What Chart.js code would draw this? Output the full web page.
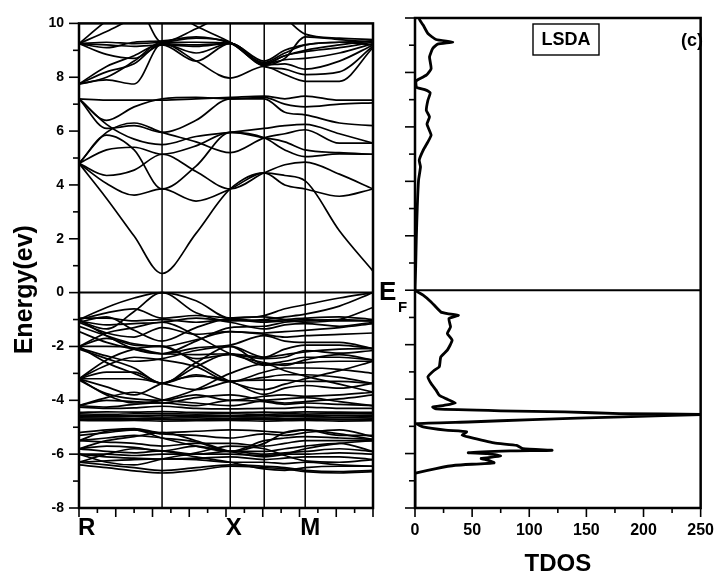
<!DOCTYPE html>
<html>
<head>
<meta charset="utf-8">
<script src="https://cdn.jsdelivr.net/npm/chart.js@4.4.1/dist/chart.umd.min.js"></script>
<style>
  html, body { margin: 0; padding: 0; background: #fff; }
  #wrap { position: relative; width: 727px; height: 580px; overflow: hidden; background: #fff; }
  #bands { position: absolute; left: 0; top: 0; }
  #dos { position: absolute; left: 370px; top: 0; }
</style>
</head>
<body>
<div id="wrap">
  <canvas id="bands" width="380" height="580"></canvas>
  <canvas id="dos" width="357" height="580"></canvas>
</div>
<script>
// ---- k-path (path-length units, 0 .. 16) ----
const kNodes = [0, 1.5, 3.0, 4.52, 6.37, 8.23, 10.08, 11.2, 12.31, 14.17, 16];
const symmetryK = [4.52, 8.23, 10.08, 12.31];
const kLabels = ['R', 'X', 'M'];
const kLabelK = [0, 8.42, 12.59];

// ---- band energies (eV) at each k node ----
const conductionBands = [
  [4.80, 3.50, 2.10, 0.71, 2.20, 3.85, 4.45, 4.35, 4.15, 2.30, 0.80],
  [4.80, 4.05, 3.62, 3.85, 3.40, 3.85, 4.45, 4.00, 3.85, 3.58, 3.85],
  [4.80, 4.35, 4.55, 5.14, 4.50, 3.85, 4.45, 4.75, 4.85, 4.40, 3.85],
  [4.80, 5.30, 5.40, 5.14, 5.45, 5.95, 5.75, 5.30, 5.05, 5.15, 5.14],
  [4.80, 5.85, 5.30, 3.85, 4.70, 5.95, 5.75, 5.60, 5.30, 5.20, 5.14],
  [4.80, 5.95, 6.30, 5.95, 5.60, 5.20, 5.75, 5.90, 6.05, 5.55, 5.55],
  [7.20, 6.25, 5.70, 5.50, 5.80, 5.95, 6.10, 6.20, 6.25, 5.90, 5.55],
  [7.20, 6.10, 6.20, 5.95, 6.40, 7.20, 7.20, 6.70, 6.60, 6.30, 6.20],
  [7.20, 6.40, 6.90, 7.20, 7.25, 7.20, 7.25, 7.00, 6.90, 7.00, 7.05],
  [7.20, 7.15, 7.15, 7.15, 7.20, 7.25, 7.30, 7.20, 7.30, 7.15, 7.15],
  [7.75, 7.90, 7.75, 9.25, 8.60, 7.97, 8.40, 8.10, 7.85, 7.85, 9.10],
  [7.75, 8.20, 8.50, 9.25, 8.90, 9.26, 8.40, 8.30, 8.10, 8.20, 9.15],
  [7.75, 8.40, 8.80, 9.25, 9.20, 9.26, 8.45, 8.50, 8.30, 8.60, 9.20],
  [7.75, 8.00, 8.60, 9.30, 9.30, 9.26, 8.50, 8.65, 8.70, 8.90, 9.25],
  [9.25, 8.85, 8.70, 9.20, 8.60, 9.26, 8.50, 8.80, 8.95, 9.10, 9.30],
  [9.25, 9.10, 9.30, 9.35, 9.50, 9.26, 8.55, 8.90, 9.20, 9.30, 9.35],
  [9.25, 9.70, 10.2, 10.6, 9.90, 9.30, 8.50, 8.80, 9.00, 9.20, 9.35],
  [9.25, 10.1, 10.8, 9.30, 9.80, 10.4, 10.6, 10.2, 9.60, 9.45, 9.40],
  [9.25, 9.30, 9.25, 9.30, 9.45, 9.30, 8.45, 8.70, 9.50, 9.40, 9.30],
  [9.25, 9.20, 9.15, 9.20, 9.15, 9.26, 8.60, 9.00, 9.20, 9.30, 9.20]
];

const valenceBands = [
  [-1.00, -0.55, -0.20, 0.00, -0.30, -0.95, -0.85, -0.60, -0.45, -0.20, 0.00],
  [-1.05, -1.35, -0.70, 0.00, -0.75, -1.05, -1.00, -0.90, -0.80, -0.50, 0.00],
  [-1.00, -0.75, -0.60, -0.95, -0.85, -0.95, -1.05, -1.00, -0.95, -0.90, -1.00],
  [-0.95, -0.95, -1.05, -1.00, -1.10, -1.00, -1.10, -1.05, -1.00, -1.05, -1.05],
  [-1.05, -1.20, -1.15, -1.10, -0.95, -1.10, -1.35, -1.20, -1.15, -1.25, -1.10],
  [-1.10, -1.50, -1.65, -1.30, -1.55, -1.45, -1.50, -1.45, -1.40, -1.30, -1.15],
  [-1.25, -1.60, -1.90, -2.00, -1.75, -1.45, -1.55, -1.65, -1.60, -1.55, -1.50],
  [-1.45, -1.85, -2.10, -2.27, -2.05, -1.95, -1.60, -1.80, -1.85, -1.85, -2.08],
  [-1.00, -1.60, -2.10, -2.27, -1.80, -1.30, -1.25, -1.10, -1.05, -1.00, -1.05],
  [-1.10, -0.90, -1.40, -1.80, -1.30, -0.95, -0.90, -1.00, -1.10, -1.00, -0.55],
  [-2.00, -2.00, -2.05, -2.27, -2.30, -2.27, -2.40, -2.10, -1.95, -1.95, -2.08],
  [-2.00, -1.70, -1.95, -2.00, -2.45, -2.30, -2.45, -2.40, -2.15, -2.25, -2.15],
  [-2.05, -2.35, -2.55, -2.45, -2.15, -2.00, -2.65, -2.55, -2.40, -2.40, -2.50],
  [-2.10, -2.45, -2.80, -3.37, -2.75, -2.27, -2.70, -2.65, -2.60, -2.55, -2.55],
  [-2.00, -2.60, -3.00, -3.37, -2.60, -2.00, -2.40, -2.30, -2.20, -2.10, -2.08],
  [-2.00, -1.50, -1.30, -1.10, -1.60, -2.27, -2.60, -2.70, -2.50, -2.30, -2.50],
  [-3.20, -2.70, -2.40, -2.50, -2.75, -3.30, -2.95, -2.80, -2.80, -2.85, -3.00],
  [-3.20, -2.95, -2.95, -3.37, -3.05, -3.30, -3.15, -3.05, -3.05, -3.15, -3.37],
  [-3.20, -3.20, -3.20, -3.37, -3.60, -3.30, -3.25, -3.25, -3.30, -3.30, -3.37],
  [-3.20, -3.50, -3.80, -3.37, -3.10, -3.30, -3.78, -3.55, -3.45, -3.55, -3.37],
  [-3.20, -2.50, -2.10, -2.00, -2.60, -3.30, -3.60, -3.40, -3.20, -2.90, -2.55],
  [-3.20, -3.80, -4.10, -4.00, -3.60, -3.00, -2.65, -2.90, -3.10, -3.40, -3.70],
  [-3.25, -3.75, -3.95, -4.00, -3.80, -4.00, -3.85, -3.80, -3.85, -3.80, -3.70],
  [-4.20, -3.90, -3.70, -3.98, -4.10, -4.20, -4.00, -3.95, -3.90, -4.05, -4.20],
  [-4.20, -4.25, -4.15, -4.10, -4.20, -4.00, -4.05, -4.15, -4.10, -4.15, -4.20],
  [-4.20, -4.00, -4.05, -4.10, -3.90, -3.80, -4.00, -4.10, -4.05, -3.95, -3.80],
  [-4.25, -4.30, -4.28, -4.22, -4.30, -4.32, -4.30, -4.30, -4.25, -4.30, -4.30],
  [-4.45, -4.43, -4.44, -4.42, -4.45, -4.46, -4.44, -4.45, -4.43, -4.44, -4.45],
  [-4.50, -4.52, -4.50, -4.49, -4.51, -4.50, -4.52, -4.50, -4.51, -4.50, -4.50],
  [-4.55, -4.56, -4.57, -4.55, -4.56, -4.58, -4.56, -4.55, -4.57, -4.56, -4.55],
  [-4.60, -4.61, -4.60, -4.62, -4.60, -4.61, -4.62, -4.61, -4.60, -4.62, -4.61],
  [-4.65, -4.66, -4.67, -4.66, -4.65, -4.67, -4.66, -4.68, -4.66, -4.65, -4.66],
  [-4.70, -4.71, -4.72, -4.70, -4.72, -4.71, -4.70, -4.72, -4.71, -4.72, -4.70],
  [-4.75, -4.76, -4.75, -4.77, -4.76, -4.75, -4.77, -4.76, -4.75, -4.77, -4.76],
  [-5.20, -5.10, -5.05, -5.20, -5.15, -5.10, -5.15, -5.20, -5.10, -5.30, -5.30],
  [-5.30, -5.20, -5.10, -5.25, -5.30, -5.40, -5.25, -5.30, -5.20, -5.10, -5.35],
  [-5.50, -5.40, -5.30, -5.40, -5.55, -5.90, -5.50, -5.40, -5.35, -5.40, -5.45],
  [-5.50, -5.15, -5.10, -5.40, -5.70, -5.90, -5.60, -5.20, -5.10, -5.25, -5.45],
  [-5.50, -5.55, -5.60, -5.70, -5.60, -5.60, -5.70, -5.60, -5.50, -5.50, -5.50],
  [-5.80, -5.70, -5.75, -5.88, -5.70, -5.90, -5.90, -5.80, -5.70, -5.60, -5.90],
  [-5.80, -5.50, -5.35, -5.20, -5.50, -5.90, -6.10, -6.00, -5.80, -5.60, -5.50],
  [-5.80, -5.90, -5.95, -5.88, -6.00, -5.90, -6.00, -5.95, -5.90, -5.80, -5.90],
  [-6.00, -6.00, -6.05, -6.00, -6.00, -6.00, -6.05, -6.00, -6.00, -5.95, -6.00],
  [-6.00, -6.10, -6.15, -6.18, -6.15, -6.10, -6.20, -6.15, -6.10, -6.10, -6.20],
  [-6.00, -6.30, -6.40, -6.18, -5.95, -5.70, -5.80, -6.05, -6.25, -6.30, -6.20],
  [-6.30, -6.25, -6.20, -6.18, -6.20, -6.30, -6.30, -6.35, -6.30, -6.40, -6.45],
  [-6.30, -6.00, -5.80, -5.88, -6.10, -6.30, -6.55, -6.60, -6.50, -6.45, -6.45],
  [-6.30, -6.40, -6.50, -6.61, -6.50, -6.40, -6.45, -6.50, -6.60, -6.65, -6.60],
  [-6.40, -6.50, -6.62, -6.70, -6.60, -6.45, -6.50, -6.55, -6.65, -6.70, -6.65]
];

// ---- total density of states ----
const dosEnergy = [10.0, 9.92, 9.74, 9.43, 9.21, 9.12, 9.04, 8.88, 8.57, 8.14, 7.90, 7.74, 7.66, 7.45, 7.37, 7.25,
  6.98, 6.61, 6.37, 6.10, 5.70, 5.45, 5.14, 4.78, 4.53, 4.04, 3.06, 1.84, 0.86, 0.12, 0.0,
  -0.18, -0.43, -0.80, -0.86, -0.92, -1.04, -1.35, -1.59, -1.84, -2.20, -2.45, -2.82, -2.94, -3.18,
  -3.43, -3.67, -3.86, -3.98, -4.14, -4.23, -4.29, -4.36, -4.43, -4.47, -4.53, -4.56, -4.65, -4.75,
  -4.84, -4.90, -5.02, -5.14, -5.20, -5.32, -5.39, -5.61, -5.70, -5.82, -5.88, -5.90, -5.97, -6.00,
  -6.09, -6.18, -6.24, -6.34, -6.43, -6.55, -6.71, -6.75, -8.0];
const dosTotal = [3.6, 4.2, 7.1, 11.3, 18.4, 33, 19.8, 15.5, 12.7, 14.1, 9.9, 2.8, 0.8, 1.4, 8.5, 13.3,
  11.3, 9.9, 12.7, 10.5, 14.1, 11.3, 7.1, 3.7, 4.8, 3.1, 2.0, 1.1, 0.6, 0, 0,
  7.1, 14.1, 22.6, 28.3, 38, 29.7, 31.1, 28.3, 32.5, 28.3, 22.6, 21.2, 16.9, 11.3,
  14.1, 18.4, 21.2, 26.8, 35.3, 25.4, 15.5, 18.4, 74.9, 131, 179, 255, 182, 103,
  46.6, 1.4, 7.1, 26.8, 45.2, 41.2, 46.6, 69.2, 89, 94.6, 120, 83.3, 46.6, 63.6,
  74.9, 57.9, 63.6, 69.2, 35.3, 18.4, 1.4, 0, 0];

const energyRange = [-8, 10];
const dosRange = [0, 250];

Chart.defaults.font.family = '"Liberation Sans", Arial, Helvetica, sans-serif';
Chart.defaults.color = '#000';

const BOLD = '"Liberation Sans", Arial, Helvetica, sans-serif';

function lineSet(points, width, tension) {
  return {
    data: points, showLine: true, borderColor: '#000', borderWidth: width,
    pointRadius: 0, pointHoverRadius: 0, fill: false,
    tension: tension, cubicInterpolationMode: tension > 0 ? 'monotone' : 'default'
  };
}

// ticks on the outside of a panel: longer marks on the labelled values
function drawOutsideTicks(ctx, a, xs, ys, xMajor, yMajor) {
  ctx.lineWidth = 1.6;
  ctx.strokeStyle = '#000';
  ys.ticks.forEach(t => {
    const py = ys.getPixelForValue(t.value);
    const len = (Math.round(t.value) % yMajor === 0) ? 10 : 6;
    ctx.beginPath(); ctx.moveTo(a.left - len, py); ctx.lineTo(a.left, py); ctx.stroke();
  });
  xs.ticks.forEach(t => {
    const px = xs.getPixelForValue(t.value);
    const len = (Math.round(t.value) % xMajor === 0) ? 9 : 5;
    ctx.beginPath(); ctx.moveTo(px, a.bottom); ctx.lineTo(px, a.bottom + len); ctx.stroke();
  });
  ctx.lineWidth = 2.5;
  ctx.strokeRect(a.left, a.top, a.right - a.left, a.bottom - a.top);
}

// ---- band structure panel ----
const bandDatasets = [];
conductionBands.concat(valenceBands).forEach(b => {
  bandDatasets.push(lineSet(b.map((e, i) => ({ x: kNodes[i], y: e })), 1.7, 0.4));
});
symmetryK.forEach(k => {
  bandDatasets.push(lineSet([{ x: k, y: energyRange[0] }, { x: k, y: energyRange[1] }], 1.5, 0));
});
bandDatasets.push(lineSet([{ x: kNodes[0], y: 0 }, { x: kNodes[kNodes.length - 1], y: 0 }], 2, 0));

const bandDecor = {
  id: 'bandDecor',
  afterDatasetsDraw(chart) {
    const { ctx, chartArea: a, scales: { x, y } } = chart;
    ctx.save();
    drawOutsideTicks(ctx, a, x, y, 2, 2);
    ctx.fillStyle = '#000';
    ctx.font = 'bold 24px ' + BOLD;
    ctx.textBaseline = 'alphabetic';
    kLabels.forEach((lab, i) => {
      ctx.textAlign = i === 0 ? 'left' : 'center';
      const px = x.getPixelForValue(kLabelK[i]);
      ctx.fillText(lab, i === 0 ? px - 1 : px, a.bottom + 27);
    });
    ctx.translate(25, (a.top + a.bottom) / 2 + 24);
    ctx.rotate(-Math.PI / 2);
    ctx.font = 'bold 25px ' + BOLD;
    ctx.textAlign = 'center';
    ctx.textBaseline = 'middle';
    ctx.fillText('Energy(ev)', 0, 0);
    ctx.restore();
  }
};

new Chart(document.getElementById('bands'), {
  type: 'scatter',
  data: { datasets: bandDatasets },
  options: {
    responsive: false, animation: false, events: [],
    layout: { padding: { left: 0, top: 18, right: 7, bottom: 0 } },
    plugins: { legend: { display: false }, tooltip: { enabled: false } },
    scales: {
      x: {
        type: 'linear', min: kNodes[0], max: kNodes[kNodes.length - 1],
        grid: { display: false, drawTicks: false }, border: { display: false },
        ticks: { stepSize: 1, autoSkip: false, callback: () => '' },
        afterFit: s => { s.height = 72; }
      },
      y: {
        type: 'linear', min: energyRange[0], max: energyRange[1],
        grid: { display: false, drawTicks: false }, border: { display: false },
        ticks: {
          stepSize: 1, autoSkip: false, padding: 15,
          font: { size: 14, weight: 'bold' },
          callback: v => (v % 2 === 0 ? String(v) : '')
        },
        afterFit: s => { s.width = 79; }
      }
    }
  },
  plugins: [bandDecor]
});

// ---- TDOS panel ----
const dosDatasets = [
  lineSet(dosEnergy.map((e, i) => ({ x: dosTotal[i], y: e })), 2.8, 0),
  lineSet([{ x: dosRange[0], y: 0 }, { x: dosRange[1], y: 0 }], 2, 0)
];
dosDatasets[0].tension = 0.15;
dosDatasets[0].cubicInterpolationMode = 'default';

const dosDecor = {
  id: 'dosDecor',
  afterDatasetsDraw(chart) {
    const { ctx, chartArea: a, scales: { x, y } } = chart;
    ctx.save();
    drawOutsideTicks(ctx, a, x, y, 50, 2);
    ctx.fillStyle = '#000';
    // Fermi level marker
    const y0 = y.getPixelForValue(0);
    ctx.textAlign = 'left';
    ctx.textBaseline = 'alphabetic';
    ctx.font = 'bold 26px ' + BOLD;
    ctx.fillText('E', a.left - 36, y0 + 10);
    ctx.font = 'bold 15px ' + BOLD;
    ctx.fillText('F', a.left - 17, y0 + 22);
    // method tag and panel letter
    ctx.font = 'bold 18px ' + BOLD;
    ctx.textAlign = 'center';
    ctx.textBaseline = 'middle';
    const bx = 566 - 370, by = 40;
    ctx.fillText('LSDA', bx, by);
    ctx.lineWidth = 1.4;
    ctx.strokeRect(bx - 33, by - 16, 66, 31);
    ctx.fillText('(c)', 692 - 370, 41);
    ctx.restore();
  }
};

new Chart(document.getElementById('dos'), {
  type: 'scatter',
  data: { datasets: dosDatasets },
  options: {
    responsive: false, animation: false, events: [],
    layout: { padding: { left: 0, top: 18, right: 17, bottom: 0 } },
    plugins: { legend: { display: false }, tooltip: { enabled: false } },
    scales: {
      x: {
        type: 'linear', min: dosRange[0], max: dosRange[1],
        grid: { display: false, drawTicks: false }, border: { display: false },
        ticks: {
          stepSize: 25, autoSkip: false, padding: 13, maxRotation: 0,
          font: { size: 16, weight: 'bold' },
          callback: v => (v % 50 === 0 ? String(v) : '')
        },
        title: { display: true, text: 'TDOS', font: { size: 24, weight: 'bold' }, padding: { top: 0, bottom: 1 } },
        afterFit: s => { s.height = 72; }
      },
      y: {
        type: 'linear', min: energyRange[0], max: energyRange[1],
        grid: { display: false, drawTicks: false }, border: { display: false },
        ticks: { stepSize: 1, autoSkip: false, display: false },
        afterFit: s => { s.width = 45; }
      }
    }
  },
  plugins: [dosDecor]
});
</script>
</body>
</html>
